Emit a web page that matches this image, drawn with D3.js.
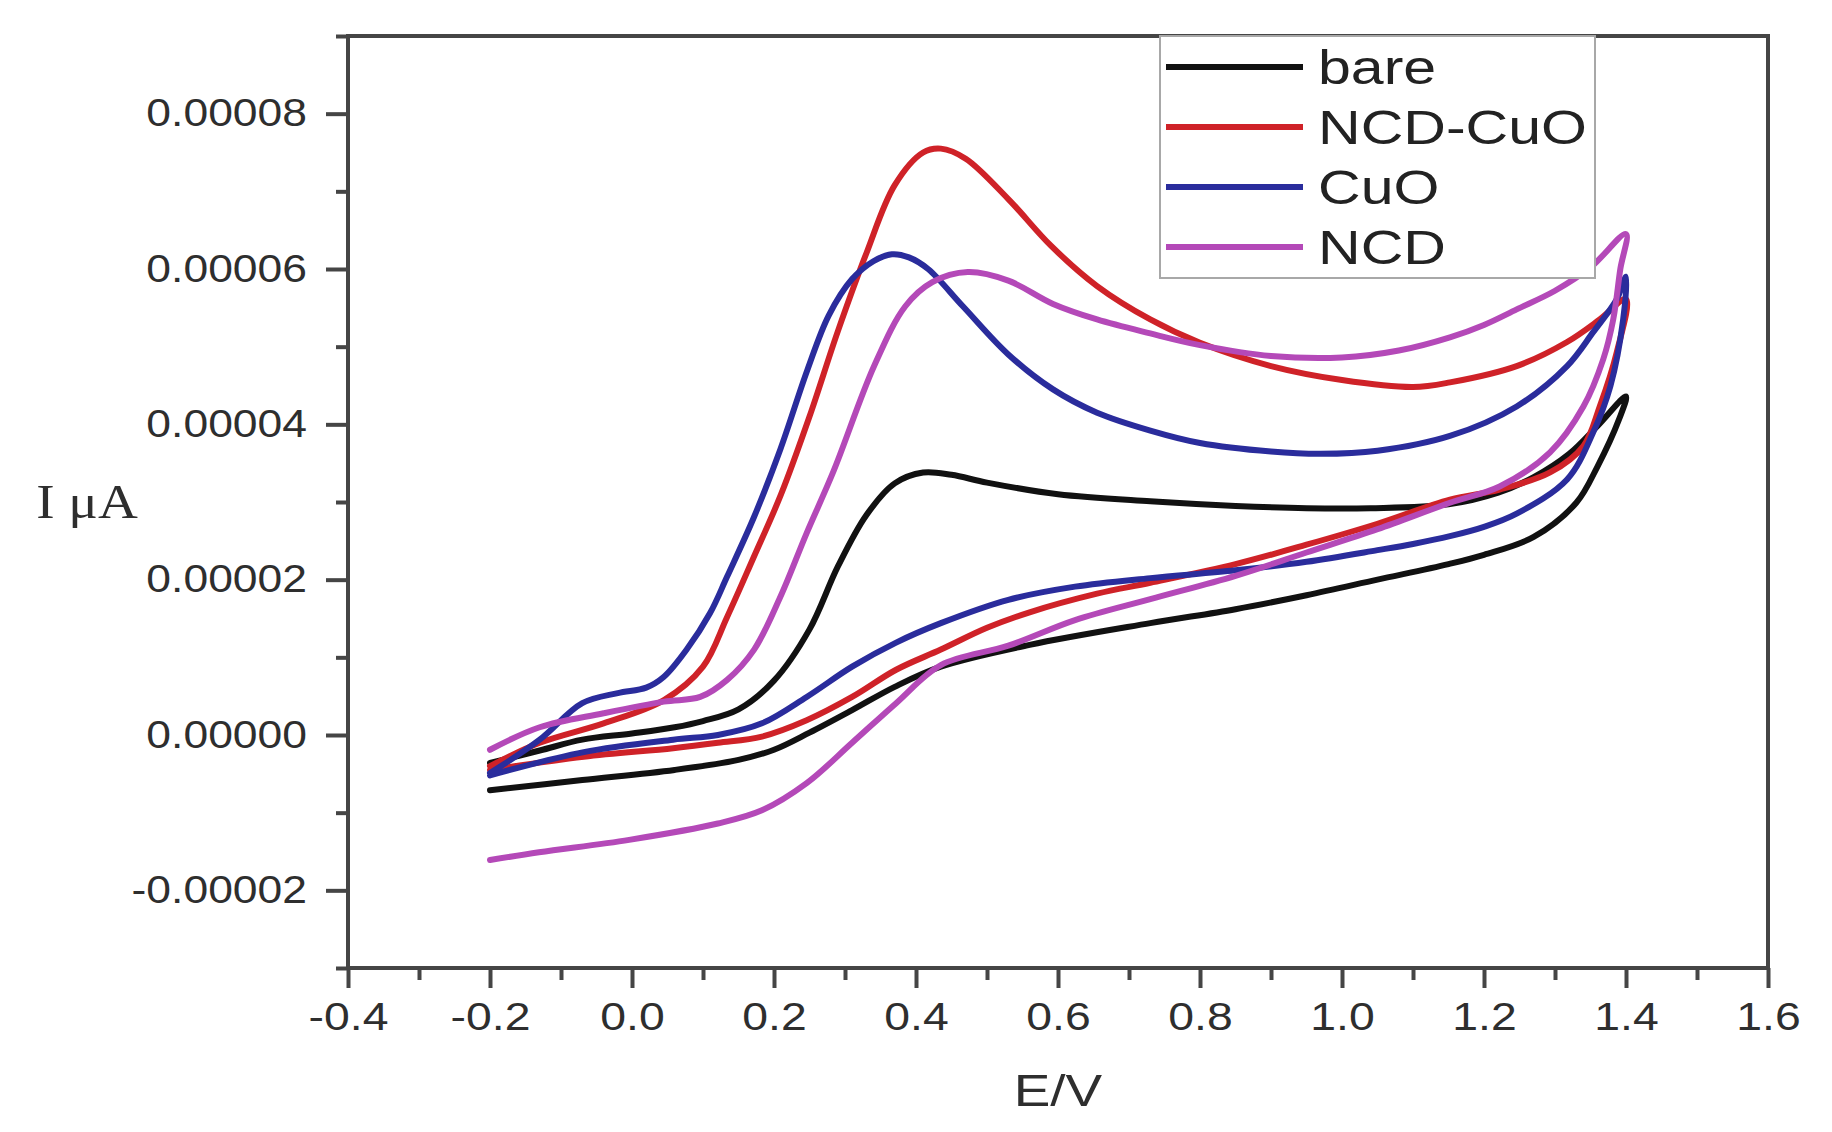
<!DOCTYPE html>
<html><head><meta charset="utf-8">
<script src="https://cdn.jsdelivr.net/npm/d3@7"></script>
<style>body{margin:0;background:#fff}</style>
</head><body>
<svg id="chart" width="1832" height="1132"></svg>
<script>
// ---- data (E in V, I in A), each loop: forward (upper) branch then return (lower) branch
const seriesNames = ["bare", "NCD-CuO", "CuO", "NCD"];
const seriesColors = ["#111111", "#cf2228", "#2a2c9c", "#b449b8"];

const bare = [
[-0.20,-0.36e-5],[-0.13,-0.20e-5],[-0.07,-0.06e-5],[0.00,0.02e-5],[0.06,0.10e-5],[0.10,0.18e-5],[0.15,0.33e-5],[0.20,0.70e-5],[0.25,1.36e-5],[0.29,2.17e-5],[0.33,2.83e-5],[0.37,3.24e-5],[0.41,3.38e-5],[0.45,3.35e-5],[0.50,3.25e-5],[0.60,3.10e-5],[0.73,3.01e-5],[0.85,2.95e-5],[0.95,2.92e-5],[1.04,2.92e-5],[1.15,2.97e-5],[1.22,3.12e-5],[1.27,3.32e-5],[1.32,3.62e-5],[1.36,3.98e-5],[1.40,4.36e-5],
[1.39,4.06e-5],[1.36,3.46e-5],[1.33,2.99e-5],[1.27,2.55e-5],[1.20,2.32e-5],[1.15,2.20e-5],[1.05,2.00e-5],[0.95,1.80e-5],[0.85,1.62e-5],[0.73,1.44e-5],[0.56,1.16e-5],[0.435,0.88e-5],[0.37,0.62e-5],[0.31,0.32e-5],[0.25,0.03e-5],[0.20,-0.19e-5],[0.15,-0.32e-5],[0.06,-0.45e-5],[-0.07,-0.58e-5],[-0.20,-0.71e-5]
];

const ncdCuO = [
[-0.20,-0.40e-5],[-0.13,-0.10e-5],[-0.04,0.15e-5],[0.045,0.45e-5],[0.10,0.88e-5],[0.134,1.52e-5],[0.17,2.26e-5],[0.21,3.10e-5],[0.25,4.10e-5],[0.29,5.20e-5],[0.33,6.20e-5],[0.37,7.08e-5],[0.41,7.50e-5],[0.435,7.55e-5],[0.47,7.42e-5],[0.53,6.90e-5],[0.59,6.30e-5],[0.655,5.78e-5],[0.73,5.35e-5],[0.80,5.05e-5],[0.90,4.75e-5],[1.00,4.57e-5],[1.10,4.48e-5],[1.152,4.54e-5],[1.246,4.75e-5],[1.317,5.06e-5],[1.363,5.35e-5],[1.40,5.61e-5],
[1.387,4.93e-5],[1.363,4.23e-5],[1.34,3.72e-5],[1.293,3.38e-5],[1.222,3.16e-5],[1.152,3.03e-5],[1.05,2.72e-5],[0.95,2.45e-5],[0.85,2.20e-5],[0.73,1.96e-5],[0.655,1.82e-5],[0.56,1.58e-5],[0.50,1.38e-5],[0.435,1.10e-5],[0.372,0.84e-5],[0.31,0.49e-5],[0.246,0.19e-5],[0.183,-0.02e-5],[0.121,-0.10e-5],[0.058,-0.17e-5],[-0.068,-0.28e-5],[-0.20,-0.45e-5]
];

const cuO = [
[-0.20,-0.49e-5],[-0.13,-0.06e-5],[-0.07,0.41e-5],[-0.02,0.54e-5],[0.02,0.61e-5],[0.045,0.75e-5],[0.077,1.10e-5],[0.11,1.57e-5],[0.134,2.04e-5],[0.172,2.81e-5],[0.209,3.68e-5],[0.247,4.70e-5],[0.277,5.40e-5],[0.31,5.87e-5],[0.34,6.10e-5],[0.366,6.19e-5],[0.39,6.15e-5],[0.417,6.00e-5],[0.466,5.52e-5],[0.53,4.90e-5],[0.593,4.45e-5],[0.655,4.15e-5],[0.73,3.92e-5],[0.80,3.76e-5],[0.90,3.65e-5],[0.97,3.62e-5],[1.05,3.66e-5],[1.152,3.85e-5],[1.246,4.23e-5],[1.317,4.75e-5],[1.354,5.19e-5],[1.387,5.61e-5],[1.40,5.90e-5],
[1.396,5.35e-5],[1.378,4.49e-5],[1.354,3.90e-5],[1.317,3.29e-5],[1.246,2.85e-5],[1.20,2.68e-5],[1.152,2.56e-5],[1.10,2.46e-5],[1.05,2.38e-5],[0.95,2.23e-5],[0.85,2.12e-5],[0.73,2.02e-5],[0.624,1.91e-5],[0.53,1.74e-5],[0.435,1.44e-5],[0.372,1.19e-5],[0.31,0.88e-5],[0.246,0.49e-5],[0.183,0.15e-5],[0.121,0.00e-5],[0.058,-0.06e-5],[-0.068,-0.22e-5],[-0.20,-0.52e-5]
];

const ncd = [
[-0.20,-0.19e-5],[-0.13,0.10e-5],[-0.04,0.28e-5],[0.045,0.43e-5],[0.096,0.49e-5],[0.134,0.71e-5],[0.172,1.10e-5],[0.209,1.78e-5],[0.246,2.60e-5],[0.284,3.40e-5],[0.341,4.75e-5],[0.385,5.52e-5],[0.423,5.83e-5],[0.473,5.96e-5],[0.53,5.85e-5],[0.593,5.55e-5],[0.655,5.35e-5],[0.73,5.17e-5],[0.80,5.02e-5],[0.90,4.88e-5],[1.00,4.86e-5],[1.08,4.95e-5],[1.152,5.12e-5],[1.20,5.28e-5],[1.246,5.48e-5],[1.30,5.72e-5],[1.35,6.02e-5],[1.40,6.45e-5],
[1.392,6.00e-5],[1.382,5.35e-5],[1.368,4.84e-5],[1.34,4.23e-5],[1.293,3.64e-5],[1.222,3.20e-5],[1.152,2.99e-5],[1.05,2.65e-5],[0.95,2.35e-5],[0.85,2.05e-5],[0.73,1.75e-5],[0.624,1.48e-5],[0.53,1.15e-5],[0.435,0.90e-5],[0.372,0.41e-5],[0.31,-0.10e-5],[0.246,-0.62e-5],[0.183,-0.97e-5],[0.121,-1.14e-5],[-0.004,-1.35e-5],[-0.131,-1.51e-5],[-0.20,-1.61e-5]
];

const seriesData = [bare, ncdCuO, cuO, ncd];

const xTicks = [-0.4, -0.2, 0.0, 0.2, 0.4, 0.6, 0.8, 1.0, 1.2, 1.4, 1.6];
const xMinorTicks = [-0.3, -0.1, 0.1, 0.3, 0.5, 0.7, 0.9, 1.1, 1.3, 1.5];
const yTicks = [-0.00002, 0, 0.00002, 0.00004, 0.00006, 0.00008];
const yMinorTicks = [-0.00003, -0.00001, 0.00001, 0.00003, 0.00005, 0.00007, 0.00009];
const xDomain = [-0.4, 1.6];
const yDomain = [-0.00003, 0.00009];
const xTitle = "E/V";
const yTitle = "I μA";

// ---- layout
const L = 348, R = 1768, T = 36, B = 968;
const svg = d3.select("#chart");
const x = d3.scaleLinear().domain(xDomain).range([L, R]);
const y = d3.scaleLinear().domain(yDomain).range([B, T]);
const axisColor = "#454545";
const textColor = "#2e2e2e";
const sans = "'Liberation Sans', Arial, Helvetica, sans-serif";
const stretch = 1.22;
const fmtX = v => d3.format(".1f")(v).replace("\u2212", "-");
const fmtY = v => d3.format(".5f")(v).replace("\u2212", "-");

// curves
const line = d3.line().x(d => x(d[0])).y(d => y(d[1])).curve(d3.curveCatmullRom.alpha(0.5));
svg.append("g").selectAll("path").data(seriesData).join("path")
  .attr("d", line)
  .attr("fill", "none")
  .attr("stroke", (d, i) => seriesColors[i])
  .attr("stroke-width", 6)
  .attr("stroke-linejoin", "round")
  .attr("stroke-linecap", "round");

// axes
function styleAxis(g) {
  g.select(".domain").remove();
  g.selectAll(".tick line").attr("stroke", axisColor).attr("stroke-width", 4);
  g.selectAll(".tick text").attr("fill", textColor).attr("font-family", sans).attr("font-size", 38);
}
const gx = svg.append("g").attr("transform", `translate(0,${B})`)
  .call(d3.axisBottom(x).tickValues(xTicks).tickSize(20).tickPadding(15).tickFormat(fmtX));
styleAxis(gx);
gx.selectAll(".tick text").attr("transform", `scale(${stretch},1)`);
const gxm = svg.append("g").attr("transform", `translate(0,${B})`)
  .call(d3.axisBottom(x).tickValues(xMinorTicks).tickSize(12).tickFormat(""));
styleAxis(gxm);

const gy = svg.append("g").attr("transform", `translate(${L},0)`)
  .call(d3.axisLeft(y).tickValues(yTicks).tickSize(22).tickPadding(18).tickFormat(fmtY));
styleAxis(gy);
gy.selectAll(".tick text").attr("x", -41 / 1.17).attr("transform", `scale(1.17,1)`);
const gym = svg.append("g").attr("transform", `translate(${L},0)`)
  .call(d3.axisLeft(y).tickValues(yMinorTicks).tickSize(12).tickFormat(""));
styleAxis(gym);

// frame
svg.append("rect").attr("x", L).attr("y", T).attr("width", R - L).attr("height", B - T)
  .attr("fill", "none").attr("stroke", axisColor).attr("stroke-width", 4);

// axis titles
svg.append("text").attr("transform", `translate(${(L + R) / 2},1106) scale(${stretch},1)`)
  .attr("text-anchor", "middle").attr("font-family", sans).attr("font-size", 45)
  .attr("fill", textColor).text(xTitle);
svg.append("text").attr("transform", `translate(87,518) scale(1.15,1)`)
  .attr("text-anchor", "middle").attr("font-family", "'Liberation Serif', 'Times New Roman', serif")
  .attr("font-size", 48).attr("fill", textColor).text(yTitle);

// legend
const lg = svg.append("g");
lg.append("rect").attr("x", 1160).attr("y", T).attr("width", 435).attr("height", 242)
  .attr("fill", "#fff").attr("stroke", "#a8a8a8").attr("stroke-width", 2);
const items = lg.selectAll("g.item").data(seriesNames).join("g").attr("class", "item")
  .attr("transform", (d, i) => `translate(0,${67 + i * 60})`);
items.append("line").attr("x1", 1166).attr("x2", 1303).attr("y1", 0).attr("y2", 0)
  .attr("stroke", (d, i) => seriesColors[i]).attr("stroke-width", 6);
items.append("text").attr("transform", `translate(1318,17) scale(1.23,1)`)
  .attr("font-family", sans).attr("font-size", 48).attr("fill", "#222").text(d => d);
</script>
</body></html>
